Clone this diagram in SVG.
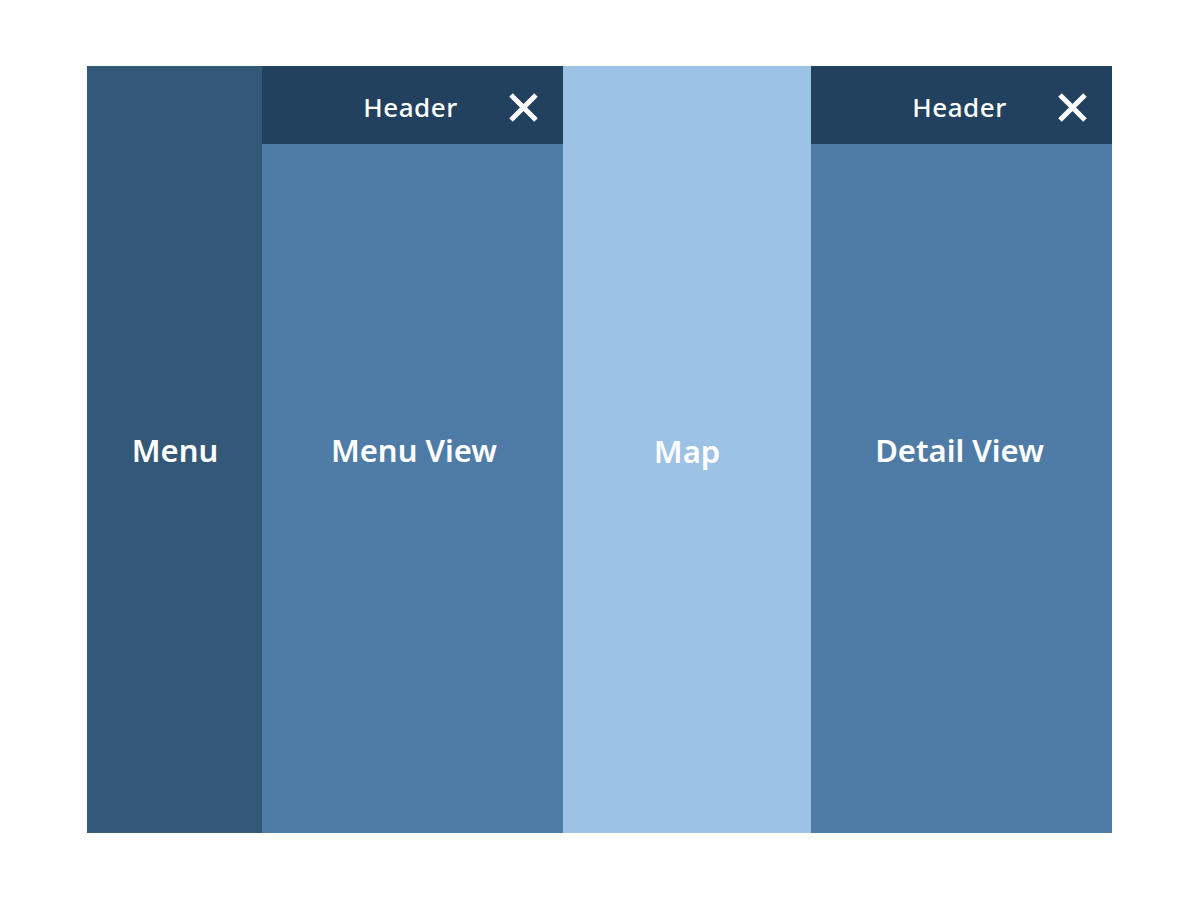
<svg xmlns="http://www.w3.org/2000/svg" width="1200" height="900" viewBox="0 0 1200 900">
<style>
.lbl{font-family:"Noto Sans","Open Sans","Liberation Sans",sans-serif;fill:#fff;text-anchor:middle}
.big{font-size:31px;font-weight:600}
.hdr{font-size:26px;font-weight:500;letter-spacing:0.5px}
.x{stroke:#fff;stroke-width:5;fill:none}
</style>
<rect width="1200" height="900" fill="#fff"/>
<g id="menu">
<rect x="87" y="66" width="175" height="767" fill="#335878"/>
<text class="lbl big" x="175" y="462">Menu</text>
</g>
<g id="menu-view">
<rect x="262" y="66" width="301" height="767" fill="#4f7ca6"/>
<rect x="262" y="66" width="301" height="78" fill="#22415e"/>
<text class="lbl hdr" x="410.5" y="117">Header</text>
<path class="x" d="M511 95L536 120M536 95L511 120"/>
<text class="lbl big" x="414" y="462">Menu View</text>
</g>
<g id="map">
<rect x="563" y="66" width="248" height="767" fill="#9cc2e5"/>
<text class="lbl big" x="687" y="463">Map</text>
</g>
<g id="detail-view">
<rect x="811" y="66" width="301" height="767" fill="#4f7ca6"/>
<rect x="811" y="66" width="301" height="78" fill="#22415e"/>
<text class="lbl hdr" x="959.5" y="117">Header</text>
<path class="x" d="M1060 95L1085 120M1085 95L1060 120"/>
<text class="lbl big" x="959.5" y="462">Detail View</text>
</g>
<g id="connectors"/>
</svg>
